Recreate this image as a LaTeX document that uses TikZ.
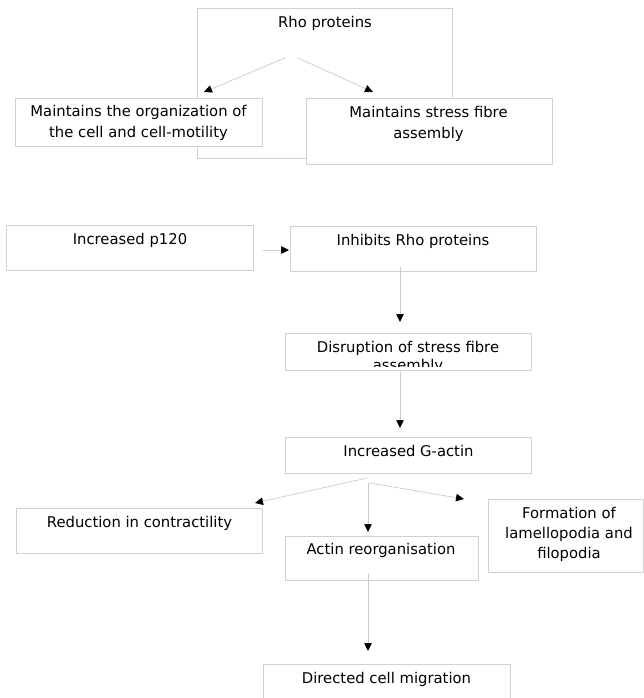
\documentclass[tikz,border=0pt]{standalone}
\usepackage{fontspec}
\setmainfont{DejaVu Sans}
\usetikzlibrary{arrows.meta}
\begin{document}
\begin{tikzpicture}[x=1pt,y=-1pt,line cap=round,line join=round,
    box/.style={draw=black!18,fill=white,line width=0.8pt,inner sep=0pt,anchor=north west},
    txt/.style={font=\fontsize{14.8}{21}\selectfont,align=center,inner sep=0pt,anchor=north},
    arr/.style={draw=black!20,line width=0.7pt,-{Triangle[length=8pt,width=7.5pt,color=black]}}]
  \useasboundingbox (0,0) rectangle (644,698);
  % Rho proteins and what they do
  \node[box,minimum width=255pt,minimum height=150pt] (rho) at (197,8) {};
  \node[txt] (rhot) at (325,16) {Rho proteins};
  \node[box,minimum width=247pt,minimum height=48pt] (org) at (15,98) {};
  \node[txt] (orgt) at (138.5,105.5) {Maintains the organization of\\the cell and cell-motility};
  \node[box,minimum width=246pt,minimum height=66pt] (fibre) at (306,98) {};
  \node[txt] (fibret) at (428.5,106.5) {Maintains stress fibre\\assembly};
  \coordinate (rhoa) at (285,58); \coordinate (rhob) at (298,58);
  \coordinate (orgin) at (204,92); \coordinate (fibrein) at (373,92);
  \draw[arr] (rhoa) -- (orgin); \draw[arr] (rhob) -- (fibrein);
  % p120 chain
  \node[box,minimum width=247pt,minimum height=45pt] (p120) at (6,225) {};
  \node[txt] (p120t) at (130,233.5) {Increased p120};
  \node[box,minimum width=246pt,minimum height=45pt] (inh) at (290,226) {};
  \node[txt] (inht) at (413,234.5) {Inhibits Rho proteins};
  \node[box,minimum width=246pt,minimum height=37pt] (dis) at (285,333) {};
  \begin{scope}
    \clip (285,333) rectangle (531,366);
    \node[txt,font=\fontsize{14.8}{18}\selectfont] (dist) at (408,341.5) {Disruption of stress fibre\\assembly};
  \end{scope}
  \node[box,minimum width=246pt,minimum height=36pt] (gact) at (285,437) {};
  \node[txt] (gactt) at (408.5,445.5) {Increased G-actin};
  \coordinate (p120out) at (263,250); \coordinate (inhin) at (289,250);
  \coordinate (inhout) at (400,267); \coordinate (disin) at (400,322);
  \coordinate (disout) at (400,372); \coordinate (gactin) at (400,428);
  \draw[arr] (p120out) -- (inhin);
  \draw[arr] (inhout) -- (disin);
  \draw[arr] (disout) -- (gactin);
  % effects of G-actin
  \node[box,minimum width=246pt,minimum height=45pt] (red) at (16,508) {};
  \node[txt] (redt) at (139.5,516.5) {Reduction in contractility};
  \node[box,minimum width=193pt,minimum height=44pt] (reorg) at (285,536) {};
  \node[txt] (reorgt) at (381,543.5) {Actin reorganisation};
  \node[box,minimum width=155pt,minimum height=73pt] (lam) at (488,499) {};
  \node[txt,font=\fontsize{14.8}{20}\selectfont] (lamt) at (569,507.5) {Formation of\\lamellopodia and\\filopodia};
  \node[box,minimum width=247pt,minimum height=45pt] (mig) at (263,664) {};
  \node[txt] (migt) at (386.5,672.5) {Directed cell migration};
  \coordinate (gacta) at (367,478); \coordinate (gactb) at (368,483); \coordinate (gactc) at (370,483);
  \coordinate (redin) at (255,503); \coordinate (reorgin) at (368,532); \coordinate (lamin) at (464,499);
  \coordinate (reorgout) at (368,574); \coordinate (migin) at (368,651);
  \draw[arr] (gacta) -- (redin);
  \draw[arr] (gactb) -- (reorgin);
  \draw[arr] (gactc) -- (lamin);
  \draw[arr] (reorgout) -- (migin);
\end{tikzpicture}
\end{document}
